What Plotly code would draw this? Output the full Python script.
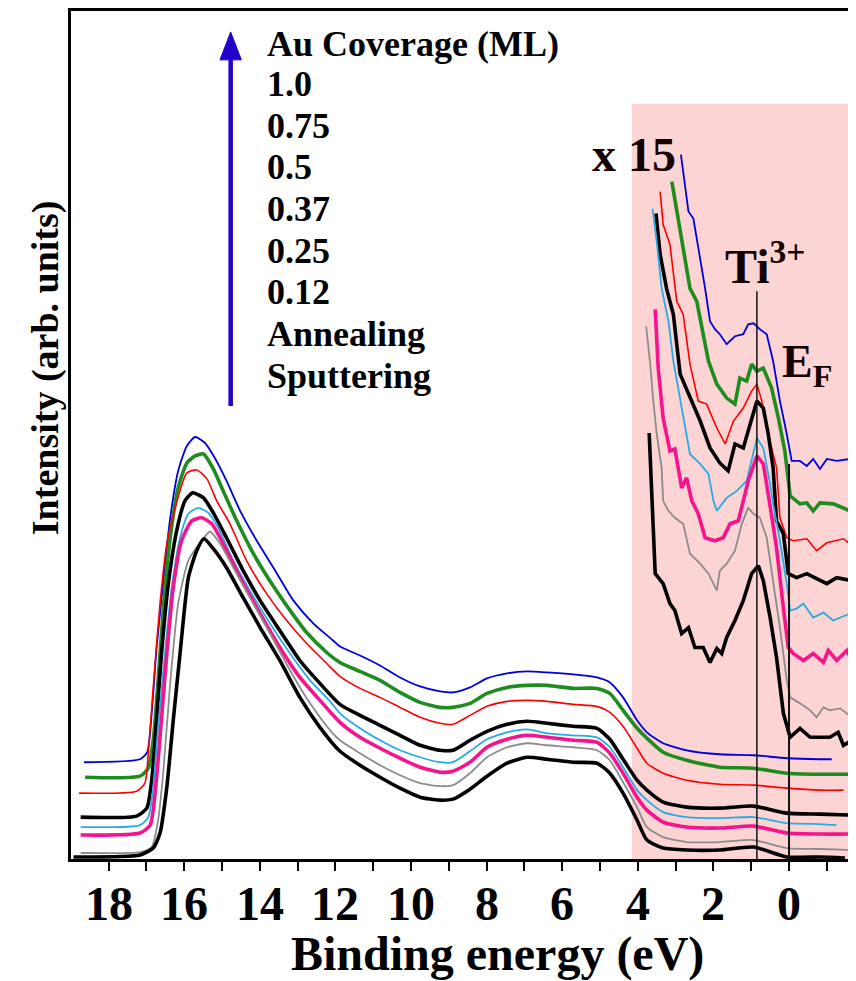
import plotly.graph_objects as go

# ---------------- data ----------------
coverage_title = "Au Coverage (ML)"
coverage_labels = ["1.0", "0.75", "0.5", "0.37", "0.25", "0.12", "Annealing", "Sputtering"]
x_tickvals = [18, 16, 14, 12, 10, 8, 6, 4, 2, 0]
x_ticktext = ["18", "16", "14", "12", "10", "8", "6", "4", "2", "0"]

e_mid = [11.88, 11.35, 10.82, 10.29, 9.76, 9.23, 8.89, 8.44, 7.99, 7.46, 6.93, 6.40, 5.71, 5.08, 4.74, 4.39, 4.02]

# main spectra (binding energy eV, intensity arb. units)
e_1p0 = [18.65, 17.17, 16.98, 16.86, 16.73, 16.55, 16.38, 16.16, 15.93, 15.71, 15.45, 15.19, 14.88, 14.52, 14.08, 13.64, 13.11, 12.58, 12.06] + e_mid + [3.76, 3.33, 2.71, 1.83, 0.94, 0.06, -0.82, -1.13]
i_1p0 = [96, 99, 106, 145, 211, 278, 338, 388, 413, 422, 416, 401, 378, 348, 318, 291, 258, 235, 218,
         212, 203, 193, 181, 172, 167, 166, 171, 180, 185, 187, 186, 184, 181, 176, 161, 138,
         126, 115, 108, 104, 103, 100, 99, 99]

e_0p75 = [18.62, 17.17, 16.95, 16.82, 16.69, 16.55, 16.38, 16.16, 15.93, 15.71, 15.49, 15.23, 14.97, 14.61, 14.17, 13.82, 13.29, 12.76, 12.23] + e_mid + [3.76, 3.33, 2.71, 1.83, 0.94, 0.06, -0.82, -1.61]
i_0p75 = [81, 82, 90, 118, 178, 251, 318, 371, 396, 403, 405, 390, 368, 338, 305, 283, 253, 226, 206,
          196, 187, 178, 166, 156, 151, 151, 155, 165, 171, 173, 173, 170, 170, 165, 148, 130,
          120, 106, 98, 91, 90, 85, 84, 84]

e_0p5 = [18.78, 17.26, 17.04, 16.95, 16.82, 16.64, 16.46, 16.24, 15.93, 15.67, 15.40, 15.14, 14.79, 14.35, 13.82, 13.29, 12.76, 12.23] + e_mid + [3.76, 3.33, 2.71, 1.83, 0.94, 0.06, -0.82, -1.44]
i_0p5 = [65, 67, 75, 105, 171, 255, 315, 351, 386, 389, 380, 358, 335, 298, 265, 238, 215, 195,
         182, 170, 161, 151, 141, 135, 134, 143, 152, 157, 158, 157, 154, 152, 146, 132, 110,
         95, 85, 78, 74, 73, 70, 68, 68]

e_0p37 = [18.74, 17.26, 16.99, 16.86, 16.73, 16.60, 16.42, 16.20, 15.98, 15.78, 15.49, 15.23, 14.88, 14.44, 13.99, 13.47, 12.94, 12.41] + e_mid + [3.76, 3.33, 2.71, 1.83, 0.94, 0.06, -0.82, -1.61]
i_0p37 = [41, 42, 50, 78, 138, 205, 275, 328, 358, 366, 361, 346, 321, 288, 258, 228, 198, 175,
          154, 143, 133, 123, 113, 108, 108, 118, 127, 134, 137, 135, 132, 130, 119, 99, 78,
          68, 56, 51, 50, 52, 45, 44, 43]

e_0p25 = [18.74, 17.17, 16.95, 16.82, 16.69, 16.51, 16.33, 16.11, 15.89, 15.63, 15.36, 15.10, 14.70, 14.26, 13.73, 13.20, 12.67, 12.14] + e_mid + [3.76, 3.33, 2.71, 1.83, 0.94, 0.06, -0.82, -1.26]
i_0p25 = [31, 33, 41, 71, 131, 205, 271, 321, 345, 351, 346, 331, 298, 268, 235, 205, 178, 157,
          145, 130, 118, 108, 101, 96, 96, 107, 119, 126, 129, 125, 123, 121, 111, 91, 68,
          58, 46, 41, 40, 41, 35, 34, 33]

e_0p12 = [18.74, 17.17, 16.90, 16.77, 16.64, 16.46, 16.29, 16.07, 15.80, 15.54, 15.27, 14.97, 14.52, 13.99, 13.47, 12.94, 12.41] + e_mid + [3.76, 3.33, 2.71, 1.83, 0.94, 0.06, -0.82, -1.61]
i_0p12 = [23, 25, 33, 65, 121, 205, 271, 318, 338, 341, 335, 315, 281, 245, 211, 181, 158,
          136, 121, 110, 100, 91, 86, 87, 96, 111, 119, 123, 121, 118, 116, 105, 85, 61,
          48, 36, 31, 30, 32, 25, 24, 24]

e_ann = [18.74, 17.17, 16.86, 16.69, 16.55, 16.38, 16.16, 15.89, 15.58, 15.32, 15.05, 14.70, 14.26, 13.73, 13.20, 12.67, 12.14] + e_mid + [3.76, 3.33, 2.71, 1.83, 0.94, 0.06, -0.82, -1.61]
i_ann = [5, 6, 11, 38, 88, 171, 255, 298, 316, 327, 315, 291, 261, 225, 188, 155, 128,
         118, 105, 93, 83, 75, 72, 73, 85, 101, 111, 115, 113, 111, 108, 98, 76, 51,
         31, 21, 16, 16, 18, 10, 9, 8]

e_spu = [18.93, 17.17, 16.82, 16.64, 16.46, 16.29, 16.11, 15.89, 15.67, 15.48, 15.23, 14.88, 14.44, 13.99, 13.47, 12.94, 12.41] + e_mid + [3.76, 3.33, 2.71, 1.83, 0.94, 0.06, -0.82, -1.48]
i_spu = [1, 3, 10, 25, 71, 138, 205, 281, 308, 320, 310, 291, 261, 231, 198, 161, 131,
         107, 93, 81, 70, 61, 58, 59, 69, 82, 95, 101, 99, 96, 95, 85, 65, 38,
         18, 10, 8, 8, 11, 1, 1, 0]

# x15 magnified valence-band edge region
e_1p0_x15 = [2.86, 2.75, 2.66, 2.53, 2.35, 2.22, 2.09, 1.96, 1.83, 1.65, 1.43, 1.21, 1.08, 0.94, 0.77, 0.59, 0.42, 0.24, 0.06, -0.07, -0.29, -0.47, -0.64, -0.82, -1.00, -1.26, -1.61]
i_1p0_x15 = [705, 671, 648, 641, 601, 571, 538, 530, 525, 515, 523, 525, 535, 536, 530, 525, 498, 458, 425, 398, 398, 393, 400, 390, 400, 398, 400]

e_0p75_x15 = [3.10, 2.93, 2.75, 2.62, 2.44, 2.27, 2.13, 1.91, 1.65, 1.43, 1.30, 1.12, 0.99, 0.85, 0.68, 0.46, 0.28, 0.11, -0.03, -0.29, -0.47, -0.64, -0.82, -1.17, -1.61]
i_0p75_x15 = [678, 641, 598, 571, 558, 525, 498, 475, 461, 455, 481, 478, 495, 488, 491, 471, 441, 408, 363, 355, 356, 348, 356, 355, 348]

e_0p5_x15 = [3.41, 3.33, 3.15, 2.97, 2.80, 2.62, 2.40, 2.18, 1.91, 1.69, 1.47, 1.21, 0.99, 0.85, 0.72, 0.55, 0.33, 0.24, 0.06, -0.11, -0.47, -0.73, -1.00, -1.44, -1.66]
i_0p5_x15 = [668, 635, 615, 558, 545, 495, 458, 455, 431, 415, 438, 451, 468, 475, 458, 425, 391, 341, 321, 318, 320, 308, 316, 320, 313]

e_0p37_x15 = [3.52, 3.41, 3.24, 3.06, 2.88, 2.62, 2.35, 2.09, 1.83, 1.61, 1.43, 1.21, 0.99, 0.85, 0.68, 0.55, 0.42, 0.33, 0.15, 0.02, -0.20, -0.47, -0.73, -1.00, -1.26, -1.66]
i_0p37_x15 = [646, 605, 571, 545, 485, 461, 438, 411, 396, 388, 415, 411, 441, 458, 451, 425, 391, 338, 325, 285, 281, 285, 280, 275, 281, 278]

e_0p25_x15 = [3.61, 3.50, 3.37, 3.19, 3.06, 2.84, 2.62, 2.35, 2.13, 2.00, 1.91, 1.65, 1.38, 1.12, 0.85, 0.68, 0.50, 0.42, 0.24, 0.06, -0.03, -0.20, -0.38, -0.64, -0.91, -1.17, -1.61]
i_0p25_x15 = [651, 618, 571, 538, 498, 451, 405, 395, 385, 358, 348, 361, 368, 378, 421, 411, 375, 355, 318, 275, 248, 250, 255, 241, 246, 238, 245]

e_0p12_x15 = [3.54, 3.46, 3.33, 3.15, 3.02, 2.84, 2.71, 2.57, 2.40, 2.22, 1.96, 1.74, 1.56, 1.34, 1.21, 1.08, 0.85, 0.68, 0.55, 0.33, 0.15, 0.02, -0.11, -0.38, -0.64, -0.91, -1.04, -1.26, -1.53, -1.66]
i_0p12_x15 = [550, 491, 441, 408, 410, 371, 381, 358, 345, 321, 318, 321, 335, 338, 358, 378, 403, 395, 365, 311, 251, 211, 205, 198, 205, 196, 208, 198, 208, 198]

e_ann_x15 = [3.78, 3.68, 3.59, 3.50, 3.37, 3.33, 3.19, 3.02, 2.80, 2.62, 2.35, 2.13, 1.91, 1.83, 1.65, 1.43, 1.25, 1.08, 0.94, 0.77, 0.59, 0.42, 0.24, 0.06, -0.03, -0.29, -0.56, -0.73, -0.91, -1.08, -1.35, -1.66]
i_ann_x15 = [533, 498, 458, 425, 391, 358, 348, 341, 335, 305, 295, 285, 268, 288, 295, 308, 335, 351, 345, 341, 321, 278, 231, 178, 161, 155, 148, 141, 151, 148, 150, 141]

e_spu_x15 = [3.70, 3.63, 3.59, 3.54, 3.33, 3.15, 3.02, 2.84, 2.66, 2.49, 2.27, 2.09, 1.91, 1.78, 1.65, 1.43, 1.21, 0.99, 0.81, 0.68, 0.50, 0.33, 0.15, -0.03, -0.29, -0.56, -0.82, -1.08, -1.30, -1.44, -1.66]
i_spu_x15 = [426, 358, 338, 285, 275, 255, 248, 225, 231, 211, 211, 196, 210, 205, 221, 238, 258, 285, 293, 278, 241, 201, 145, 121, 130, 121, 121, 121, 126, 113, 118]

ti3_energy = 0.85
ti3_line_top = 568
ef_energy = 0.0
ef_line_top = 395
zoom_region_start = 4.16
zoom_region_top = 756

# ---------------- styling ----------------
colors = ["#0000dc", "#1e8c1e", "#ff0000", "#000000", "#28aae6", "#f5148c", "#8c8c8c", "#000000"]
widths = [1.8, 3.6, 1.6, 3.6, 1.8, 3.6, 1.8, 3.6]

main_series = [(e_1p0, i_1p0), (e_0p75, i_0p75), (e_0p5, i_0p5), (e_0p37, i_0p37),
               (e_0p25, i_0p25), (e_0p12, i_0p12), (e_ann, i_ann), (e_spu, i_spu)]
x15_series = [(e_1p0_x15, i_1p0_x15), (e_0p75_x15, i_0p75_x15), (e_0p5_x15, i_0p5_x15),
              (e_0p37_x15, i_0p37_x15), (e_0p25_x15, i_0p25_x15), (e_0p12_x15, i_0p12_x15),
              (e_ann_x15, i_ann_x15), (e_spu_x15, i_spu_x15)]

X_RANGE = [18.995, -1.772]
Y_RANGE = [-1, 849]
FONT = "Liberation Serif"
TXT = "#150000"

fig = go.Figure()

for k in range(len(main_series)):
    e, i = main_series[k]
    fig.add_trace(go.Scatter(x=e, y=i, mode="lines", name=coverage_labels[k],
                             line=dict(color=colors[k], width=widths[k], shape="spline", smoothing=0.6),
                             showlegend=False, hoverinfo="skip"))
for k in range(len(x15_series)):
    e, i = x15_series[k]
    fig.add_trace(go.Scatter(x=e, y=i, mode="lines", name=coverage_labels[k] + " x15",
                             line=dict(color=colors[k], width=widths[k]),
                             showlegend=False, hoverinfo="skip"))

shapes = [
    dict(type="rect", xref="x", yref="y", x0=zoom_region_start, x1=X_RANGE[1], y0=Y_RANGE[0], y1=zoom_region_top,
         fillcolor="#fcd4d4", line=dict(width=0), layer="below"),
    dict(type="line", xref="x", yref="y", x0=ti3_energy, x1=ti3_energy, y0=Y_RANGE[0], y1=ti3_line_top,
         line=dict(color="#111111", width=1.5), layer="above"),
    dict(type="line", xref="x", yref="y", x0=ef_energy, x1=ef_energy, y0=Y_RANGE[0], y1=ef_line_top,
         line=dict(color="#111111", width=2), layer="above"),
    # blue arrow (shaft + head)
    dict(type="line", xref="paper", yref="paper", x0=0.2034, x1=0.2034, y0=0.5341, y1=0.946,
         line=dict(color="#2200cc", width=4.5)),
    dict(type="path", xref="paper", yref="paper",
         path="M 0.1898 0.9424 L 0.2170 0.9424 L 0.2034 0.9753 Z",
         fillcolor="#2200cc", line=dict(color="#2200cc", width=1)),
]

annotations = []
annotations.append(dict(text="<b>" + coverage_title + "</b>", xref="paper", yref="paper",
                        x=0.2471, y=0.9612, xanchor="left", yanchor="middle", showarrow=False,
                        font=dict(family=FONT, size=36, color="#000000")))
for k, lab in enumerate(coverage_labels):
    annotations.append(dict(text="<b>" + lab + "</b>", xref="paper", yref="paper",
                            x=0.2471, y=0.9141 - k * 0.04916, xanchor="left", yanchor="middle",
                            showarrow=False, font=dict(family=FONT, size=36, color="#000000")))

# x tick labels
for v, t in zip(x_tickvals, x_ticktext):
    annotations.append(dict(text="<b>" + t + "</b>", xref="x", yref="paper", x=v, y=-0.0529,
                            xanchor="center", yanchor="middle", showarrow=False,
                            font=dict(family=FONT, size=48, color="#000000")))

annotations += [
    dict(text="<b>x 15</b>", xref="paper", yref="paper", x=0.7172, y=0.8306,
         xanchor="center", yanchor="middle", showarrow=False,
         font=dict(family=FONT, size=48, color=TXT)),
    dict(text="<b>Ti<sup>3+</sup></b>", xref="paper", yref="paper", x=0.8306, y=0.703,
         xanchor="left", yanchor="middle", showarrow=False,
         font=dict(family=FONT, size=48, color=TXT)),
    dict(text="<b>E<sub>F</sub></b>", xref="paper", yref="paper", x=0.9032, y=0.582,
         xanchor="left", yanchor="middle", showarrow=False,
         font=dict(family=FONT, size=46, color=TXT)),
    dict(text="<b>Binding energy (eV)</b>", xref="paper", yref="paper", x=0.5427, y=-0.1118,
         xanchor="center", yanchor="middle", showarrow=False,
         font=dict(family=FONT, size=48, color="#000000")),
    dict(text="<b>Intensity (arb. units)</b>", xref="paper", yref="paper", x=-0.0331, y=0.5788,
         xanchor="center", yanchor="middle", showarrow=False, textangle=-90,
         font=dict(family=FONT, size=38, color="#000000")),
]

# page body has an 8px default margin: size the figure so the plot area lands where the reference has it
fig.update_layout(
    width=848, height=973,
    margin=dict(l=63, r=0, t=1, b=122, pad=0),
    paper_bgcolor="white", plot_bgcolor="white",
    shapes=shapes, annotations=annotations,
    showlegend=False,
)
fig.update_xaxes(range=X_RANGE, showgrid=False, zeroline=False,
                 showline=True, linecolor="black", linewidth=3, mirror=True,
                 tickmode="array", tickvals=x_tickvals, ticktext=x_ticktext, showticklabels=False,
                 ticks="outside", ticklen=9, tickwidth=2, tickcolor="black",
                 minor=dict(dtick=1, tick0=0, ticks="outside", ticklen=9, tickwidth=2, tickcolor="black"))
fig.update_yaxes(range=Y_RANGE, showgrid=False, zeroline=False,
                 showline=True, linecolor="black", linewidth=3, mirror=False,
                 showticklabels=False, ticks="")

fig.write_html("out.html")
